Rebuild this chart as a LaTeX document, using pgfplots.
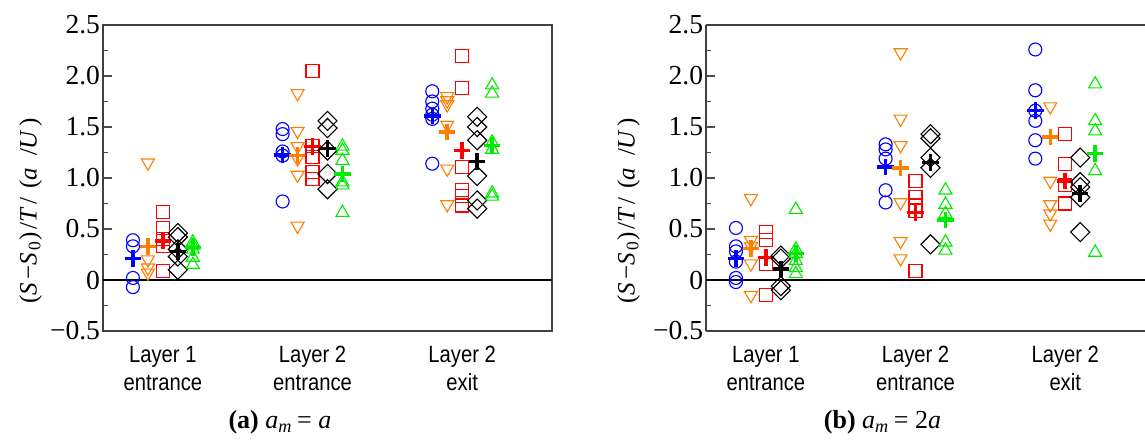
\documentclass[border=0pt]{standalone}
\usepackage{fontspec}
\setmainfont{Liberation Serif}
\setsansfont{Liberation Sans}
\newfontfamily\narrowsans{Liberation Sans}[FakeStretch=0.86]
\newfontfamily\spacedserif{Liberation Serif}[LetterSpace=11]
\usepackage{pgfplots}
\pgfplotsset{compat=1.18}
\definecolor{cblue}{RGB}{0,0,255}
\definecolor{corange}{RGB}{255,128,0}
\definecolor{cred}{RGB}{255,0,0}
\definecolor{cgreen}{RGB}{0,235,0}
\pgfplotsset{
  panel/.style={
    scale only axis, width=179.6pt, height=122.4pt,
    xmin=0.6, xmax=3.6, ymin=-0.5, ymax=2.5,
    ytick={-0.5,0,0.5,1,1.5,2,2.5},
    yticklabels={−0.5,0,0.5,1.0,1.5,2.0,2.5},
    minor y tick num=1,
    ytick pos=left, tick align=inside,
    major tick length=3.7pt, minor tick length=2pt,
    tick style={black!70, line width=0.5pt},
    xtick={1,2,3},
    xticklabels={Layer 1\\entrance, Layer 2\\entrance, Layer 2\\exit},
    x tick style={draw=none},
    xticklabel style={align=center, yshift=-2.6pt,
      font=\narrowsans\fontsize{9.4}{11.2}\selectfont},
    yticklabel style={inner xsep=1pt, font=\fontsize{11}{13}\selectfont},
    axis line style={black!75, line width=0.7pt},
    clip=false,
  },
  po/.style={only marks, mark=o, cblue, mark size=2.6pt, mark options={line width=0.45pt}},
  pd/.style={only marks, mark=triangle, corange, mark size=3pt, mark options={rotate=180, line width=0.45pt}},
  ps/.style={only marks, mark=square, cred, mark size=2.6pt, mark options={line width=0.45pt}},
  pk/.style={only marks, mark=square, black, mark size=2.7pt, mark options={rotate=45, line width=0.45pt}},
  pg/.style={only marks, mark=triangle, cgreen, mark size=3pt, mark options={line width=0.45pt}},
  pm/.style={only marks, mark=+, #1, mark size=3.3pt, mark options={line width=1.4pt}},
}
\newcommand{\ylab}{\spacedserif(\textit{S}−\textit{S}\textsubscript{0})/\textit{T}/ (\textit{a} /\textit{U})}
\begin{document}
\begin{tikzpicture}
\useasboundingbox (0,0) rectangle (458pt,176.4pt);
% ---------------- panel (a)
\begin{axis}[panel, at={(41.2pt,44pt)}, anchor=south west]
\addplot[black, line width=0.6pt, no marks] coordinates {(0.6,0) (3.6,0)};
\addplot[po] coordinates {(0.8,0.39) (0.8,0.33) (0.8,0.02) (0.8,-0.07)
  (1.8,1.48) (1.8,1.43) (1.8,1.26) (1.8,1.22) (1.8,0.77)
  (2.8,1.85) (2.8,1.75) (2.8,1.68) (2.8,1.62) (2.8,1.58) (2.8,1.14)};
\addplot[pm=cblue] coordinates {(0.8,0.21) (1.8,1.225) (2.8,1.61)};
\addplot[pd] coordinates {(0.9,1.15) (0.9,0.20) (0.9,0.12) (0.9,0.07)
  (1.9,1.83) (1.9,1.46) (1.9,1.31) (1.9,1.19) (1.9,1.03) (1.9,0.53)
  (2.9,1.80) (2.9,1.76) (2.9,1.72) (2.9,1.52) (2.9,1.09) (2.9,0.74)};
\addplot[pm=corange] coordinates {(0.9,0.33) (1.9,1.22) (2.9,1.45)};
\addplot[ps] coordinates {(1,0.67) (1,0.51) (1,0.40) (1,0.33) (1,0.09)
  (2,2.05) (2,1.31) (2,1.21) (2,1.06) (2,0.99)
  (3,2.20) (3,1.88) (3,1.11) (3,0.88) (3,0.82) (3,0.73)};
\addplot[pm=cred] coordinates {(1,0.38) (2,1.31) (3,1.27)};
\addplot[pk] coordinates {(1.1,0.46) (1.1,0.42) (1.1,0.30) (1.1,0.23) (1.1,0.10)
  (2.1,1.56) (2.1,1.49) (2.1,1.27) (2.1,1.04) (2.1,0.89)
  (3.1,1.60) (3.1,1.50) (3.1,1.37) (3.1,1.02) (3.1,0.78) (3.1,0.70)};
\addplot[pm=black] coordinates {(1.1,0.28) (2.1,1.29) (3.1,1.16)};
\addplot[pg] coordinates {(1.2,0.37) (1.2,0.34) (1.2,0.30) (1.2,0.22) (1.2,0.15)
  (2.2,1.31) (2.2,1.27) (2.2,1.17) (2.2,0.96) (2.2,0.93) (2.2,0.66)
  (3.2,1.91) (3.2,1.83) (3.2,1.35) (3.2,1.28) (3.2,0.85) (3.2,0.82)};
\addplot[pm=cgreen] coordinates {(1.2,0.32) (2.2,1.04) (3.2,1.32)};
\node[rotate=90, font=\fontsize{10}{12}\selectfont] at ([xshift=-29pt]axis description cs:0,0.392) {\ylab};
\node[font=\fontsize{10.4}{12}\selectfont] at ([yshift=-36.5pt]axis description cs:0.394,0) {\textbf{(a)} \textit{a}\textsubscript{\textit{m}}\,= \textit{a}};
\end{axis}
% ---------------- panel (b): cut at the right edge, no right spine
\begin{axis}[panel, at={(282.4pt,44pt)}, anchor=south west,
  width=175.6pt, xmax=3.533,
  axis x line*=box, axis y line*=left, y axis line style={-}, x axis line style={-}]
\addplot[black, line width=0.6pt, no marks] coordinates {(0.6,0) (3.533,0)};
\addplot[po] coordinates {(0.8,0.51) (0.8,0.33) (0.8,0.28) (0.8,0.18) (0.8,0.02) (0.8,-0.02)
  (1.8,1.33) (1.8,1.28) (1.8,1.19) (1.8,0.88) (1.8,0.76)
  (2.8,2.26) (2.8,1.86) (2.8,1.66) (2.8,1.56) (2.8,1.37) (2.8,1.19)};
\addplot[pm=cblue] coordinates {(0.8,0.21) (1.8,1.11) (2.8,1.66)};
\addplot[pd] coordinates {(0.9,0.80) (0.9,0.39) (0.9,0.33) (0.9,0.16) (0.9,-0.15)
  (1.9,2.23) (1.9,1.58) (1.9,1.32) (1.9,0.76) (1.9,0.38) (1.9,0.21)
  (2.9,1.70) (2.9,0.97) (2.9,0.74) (2.9,0.65) (2.9,0.55)};
\addplot[pm=corange] coordinates {(0.9,0.31) (1.9,1.10) (2.9,1.40)};
\addplot[ps] coordinates {(1,0.47) (1,0.39) (1,0.16) (1,-0.15)
  (2,0.97) (2,0.81) (2,0.73) (2,0.68) (2,0.09)
  (3,1.43) (3,1.14) (3,0.93) (3,0.75)};
\addplot[pm=cred] coordinates {(1,0.22) (2,0.66) (3,0.97)};
\addplot[pk] coordinates {(1.1,0.24) (1.1,0.21) (1.1,-0.06) (1.1,-0.10)
  (2.1,1.43) (2.1,1.39) (2.1,1.20) (2.1,1.10) (2.1,0.35)
  (3.1,1.20) (3.1,0.96) (3.1,0.91) (3.1,0.81) (3.1,0.47)};
\addplot[pm=black] coordinates {(1.1,0.11) (2.1,1.15) (3.1,0.85)};
\addplot[pg] coordinates {(1.2,0.69) (1.2,0.30) (1.2,0.26) (1.2,0.19) (1.2,0.12) (1.2,0.06)
  (2.2,0.88) (2.2,0.74) (2.2,0.65) (2.2,0.37) (2.2,0.29)
  (3.2,1.92) (3.2,1.56) (3.2,1.46) (3.2,1.07) (3.2,0.27)};
\addplot[pm=cgreen] coordinates {(1.2,0.26) (2.2,0.59) (3.2,1.24)};
\node[rotate=90, font=\fontsize{10}{12}\selectfont] at ([xshift=-31pt]axis description cs:0,0.392) {\ylab};
\node[font=\fontsize{10.4}{12}\selectfont] at ([yshift=-36.5pt]axis description cs:0.402,0) {\textbf{(b)} \textit{a}\textsubscript{\textit{m}}\,= 2\textit{a}};
\end{axis}
\end{tikzpicture}
\end{document}
